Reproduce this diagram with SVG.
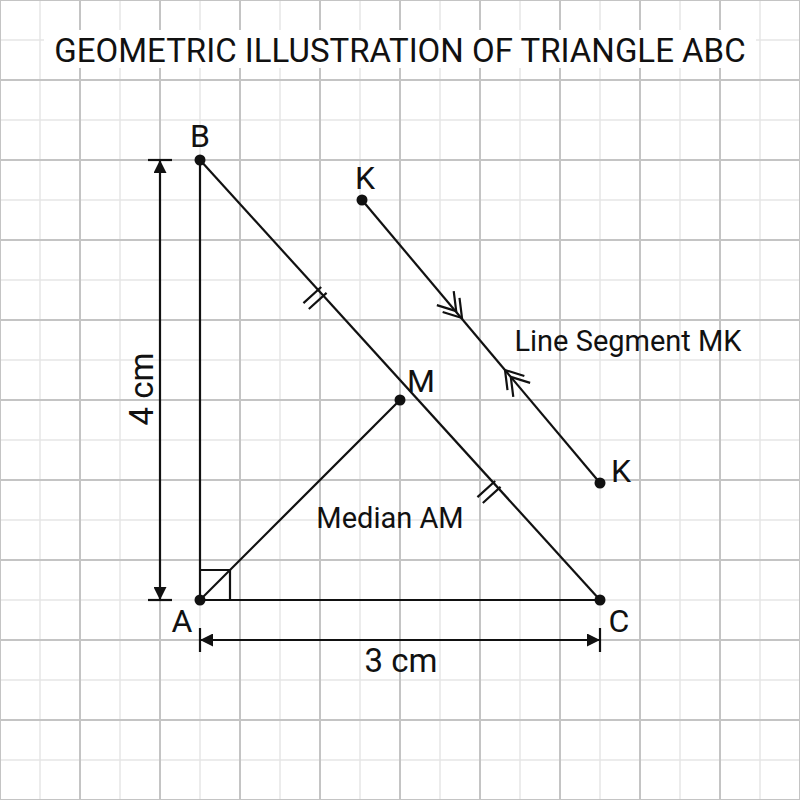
<svg xmlns="http://www.w3.org/2000/svg" width="800" height="800" viewBox="0 0 800 800">
<defs>
<style>
.minor{stroke:#e6e6e6;stroke-width:1.5}
.major{stroke:#c4c4c4;stroke-width:2}
.ln{stroke:#111;stroke-width:2.2;fill:none}
.lbl{font-family:Roboto,"Liberation Sans",sans-serif;fill:#111}
.pt{fill:#111}
</style>
<marker id="arr" viewBox="0 0 10 10" refX="10" refY="5" markerWidth="13" markerHeight="13" markerUnits="userSpaceOnUse" orient="auto-start-reverse">
<path d="M0,0 L10,5 L0,10 z" fill="#111"/>
</marker>
<path id="chev" d="M-17,-11 L0,0 L-17,11 M-26,-11 L-9,0 L-26,11" stroke="#111" stroke-width="2.2" fill="none"/>
<path id="tick" d="M-4,-12 L-4,12 M4,-12 L4,12" stroke="#111" stroke-width="2.2" fill="none"/>
</defs>
<rect width="800" height="800" fill="#fff"/>
<g id="grid">
<path class="minor" d="M40,0V800M120,0V800M200,0V800M280,0V800M360,0V800M440,0V800M520,0V800M600,0V800M680,0V800M760,0V800M0,40H800M0,120H800M0,200H800M0,280H800M0,360H800M0,440H800M0,520H800M0,600H800M0,680H800M0,760H800"/>
<path class="major" d="M0,0V800M80,0V800M160,0V800M240,0V800M320,0V800M400,0V800M480,0V800M560,0V800M640,0V800M720,0V800M800,0V800M0,0H800M0,80H800M0,160H800M0,240H800M0,320H800M0,400H800M0,480H800M0,560H800M0,640H800M0,720H800M0,800H800"/>
</g>
<g id="title">
<rect x="44" y="30" width="712" height="38" fill="#fff"/>
<text class="lbl" x="400" y="62" font-size="33" text-anchor="middle">GEOMETRIC ILLUSTRATION OF TRIANGLE ABC</text>
</g>
<g id="connectors">
<line class="ln" x1="200" y1="160" x2="200" y2="600"/>
<line class="ln" x1="200" y1="600" x2="600" y2="600"/>
<line class="ln" x1="200" y1="160" x2="600" y2="600"/>
<line class="ln" x1="200" y1="600" x2="400" y2="400"/>
<line class="ln" x1="362" y1="200" x2="600" y2="483"/>
<path class="ln" d="M200,570 H230 V600"/>
<use href="#tick" transform="translate(315,298) rotate(47.7)"/>
<use href="#tick" transform="translate(489,492) rotate(47.7)"/>
<use href="#chev" transform="translate(462,318) rotate(50)"/>
<use href="#chev" transform="translate(505,370) rotate(230)"/>
</g>
<g id="dim-vertical">
<line class="ln" x1="160" y1="160" x2="160" y2="600" marker-start="url(#arr)" marker-end="url(#arr)"/>
<line class="ln" x1="148" y1="160" x2="172" y2="160"/>
<line class="ln" x1="148" y1="600" x2="172" y2="600"/>
<text class="lbl" font-size="33" text-anchor="middle" transform="translate(153,389) rotate(-90)">4 cm</text>
</g>
<g id="dim-horizontal">
<line class="ln" x1="200" y1="640" x2="600" y2="640" marker-start="url(#arr)" marker-end="url(#arr)"/>
<line class="ln" x1="200" y1="628" x2="200" y2="652"/>
<line class="ln" x1="600" y1="628" x2="600" y2="652"/>
<text class="lbl" x="401" y="672" font-size="33" text-anchor="middle">3 cm</text>
</g>
<g id="node-B"><circle class="pt" cx="200" cy="160" r="5.5"/><text class="lbl" x="200" y="147" font-size="32" text-anchor="middle">B</text></g>
<g id="node-A"><circle class="pt" cx="200" cy="600" r="5.5"/><text class="lbl" x="182" y="632" font-size="32" text-anchor="middle">A</text></g>
<g id="node-C"><circle class="pt" cx="600" cy="600" r="5.5"/><text class="lbl" x="619" y="632" font-size="32" text-anchor="middle">C</text></g>
<g id="node-M"><circle class="pt" cx="400" cy="400" r="5.5"/><text class="lbl" x="421" y="392" font-size="32" text-anchor="middle">M</text></g>
<g id="node-K1"><circle class="pt" cx="362" cy="200" r="5.5"/><text class="lbl" x="365" y="189" font-size="32" text-anchor="middle">K</text></g>
<g id="node-K2"><circle class="pt" cx="600" cy="483" r="5.5"/><text class="lbl" x="621" y="482" font-size="32" text-anchor="middle">K</text></g>
<g id="label-median"><text class="lbl" x="390" y="528" font-size="29" text-anchor="middle">Median AM</text></g>
<g id="label-mk"><text class="lbl" x="628" y="351" font-size="29" text-anchor="middle">Line Segment MK</text></g>
</svg>
